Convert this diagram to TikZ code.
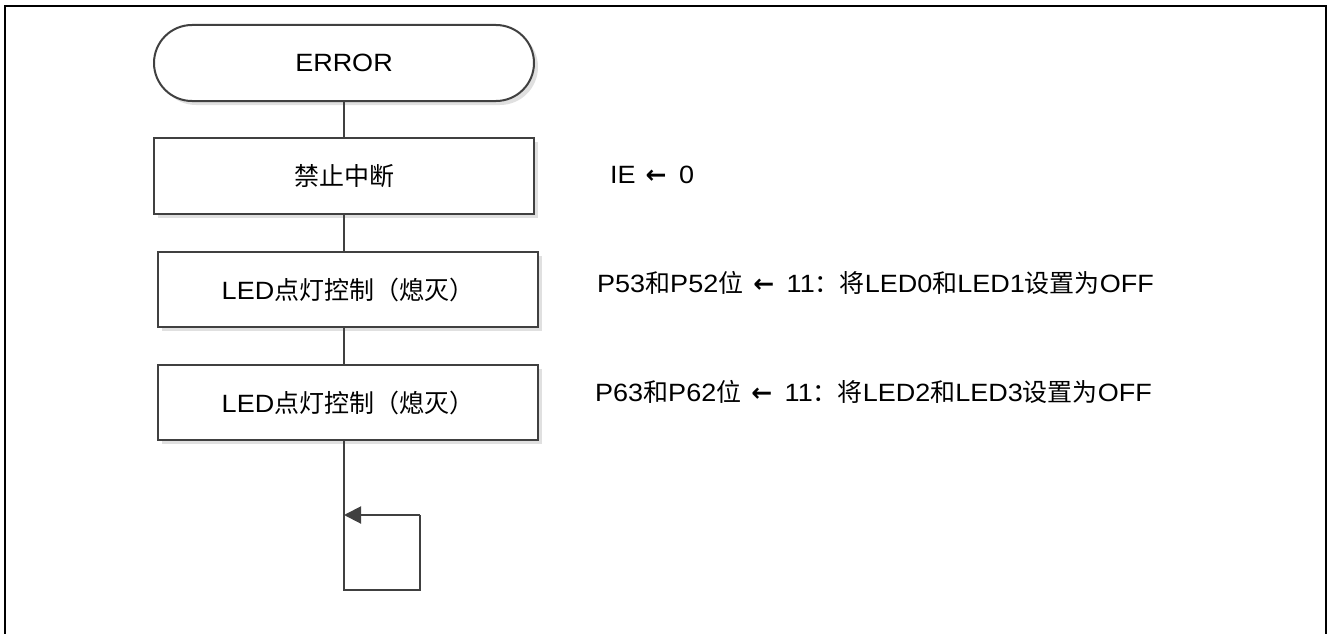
\documentclass[tikz,border=0pt]{standalone}
\usepackage{fontspec}
\setmainfont{Liberation Sans}[FakeStretch=1.08]
\newfontfamily\cjk{Noto Sans CJK SC}
\newfontfamily\arrfont{DejaVu Sans}
\newcommand\myarr{\hspace{0.4em}{\arrfont\bfseries ←}\hspace{0.5em}}
\usetikzlibrary{shadows,arrows.meta,shapes.misc}
\begin{document}
\begin{tikzpicture}[x=1pt,y=-1pt,
  ln/.style={draw=black!75, line width=2pt},
  shd/.style={drop shadow={shadow xshift=4pt, shadow yshift=-4pt, fill=black!12, opacity=1}},
  txt/.style={font=\fontsize{25}{30}\selectfont, text=black},
  box/.style={ln, txt, fill=white, shd, rectangle, minimum width=380pt, minimum height=76pt, inner sep=0pt},
  term/.style={box, rounded rectangle},
  note/.style={txt, anchor=base west, inner sep=0pt},
  frame/.style={draw=black, line width=2.5pt}
]
\useasboundingbox (0,0) rectangle (1330,634);
% frame
\coordinate (fbl) at (5,640);
\coordinate (ftl) at (5,6);
\coordinate (ftr) at (1326,6);
\coordinate (fbr) at (1326,640);
\draw[frame] (fbl) -- (ftl) -- (ftr) -- (fbr);
% flow nodes
\node[term] (err) at (344,63) {ERROR};
\node[box] (b1) at (344,176) {{\cjk 禁止中断}};
\node[box, minimum height=75pt] (b2) at (348,289.5) {LED{\cjk 点灯控制（熄灭）}};
\node[box, minimum height=75pt] (b3) at (348,402.5) {LED{\cjk 点灯控制（熄灭）}};
% connectors
\draw[ln] (err.south) -- (b1.north);
\draw[ln] (b1.south) -- (b1.south |- b2.north);
\draw[ln] (b1.south |- b2.south) -- (b1.south |- b3.north);
\coordinate (l0) at (344,440);
\coordinate (l1) at (344,590);
\coordinate (l2) at (420,590);
\coordinate (l3) at (420,515);
\coordinate (l4) at (344,515);
\draw[ln] (l0) -- (l1) -- (l2) -- (l3);
\draw[ln, -{Triangle[length=17pt,width=17pt]}] (l3) -- (l4);
% notes
\node[note] (n1) at (610,183.5) {IE\myarr 0};
\node[note] (n2) at (597,292) {P53{\cjk 和}P52{\cjk 位}\myarr 11{\cjk ：将}LED0{\cjk 和}LED1{\cjk 设置为}OFF};
\node[note] (n3) at (595,401) {P63{\cjk 和}P62{\cjk 位}\myarr 11{\cjk ：将}LED2{\cjk 和}LED3{\cjk 设置为}OFF};
\end{tikzpicture}
\end{document}
